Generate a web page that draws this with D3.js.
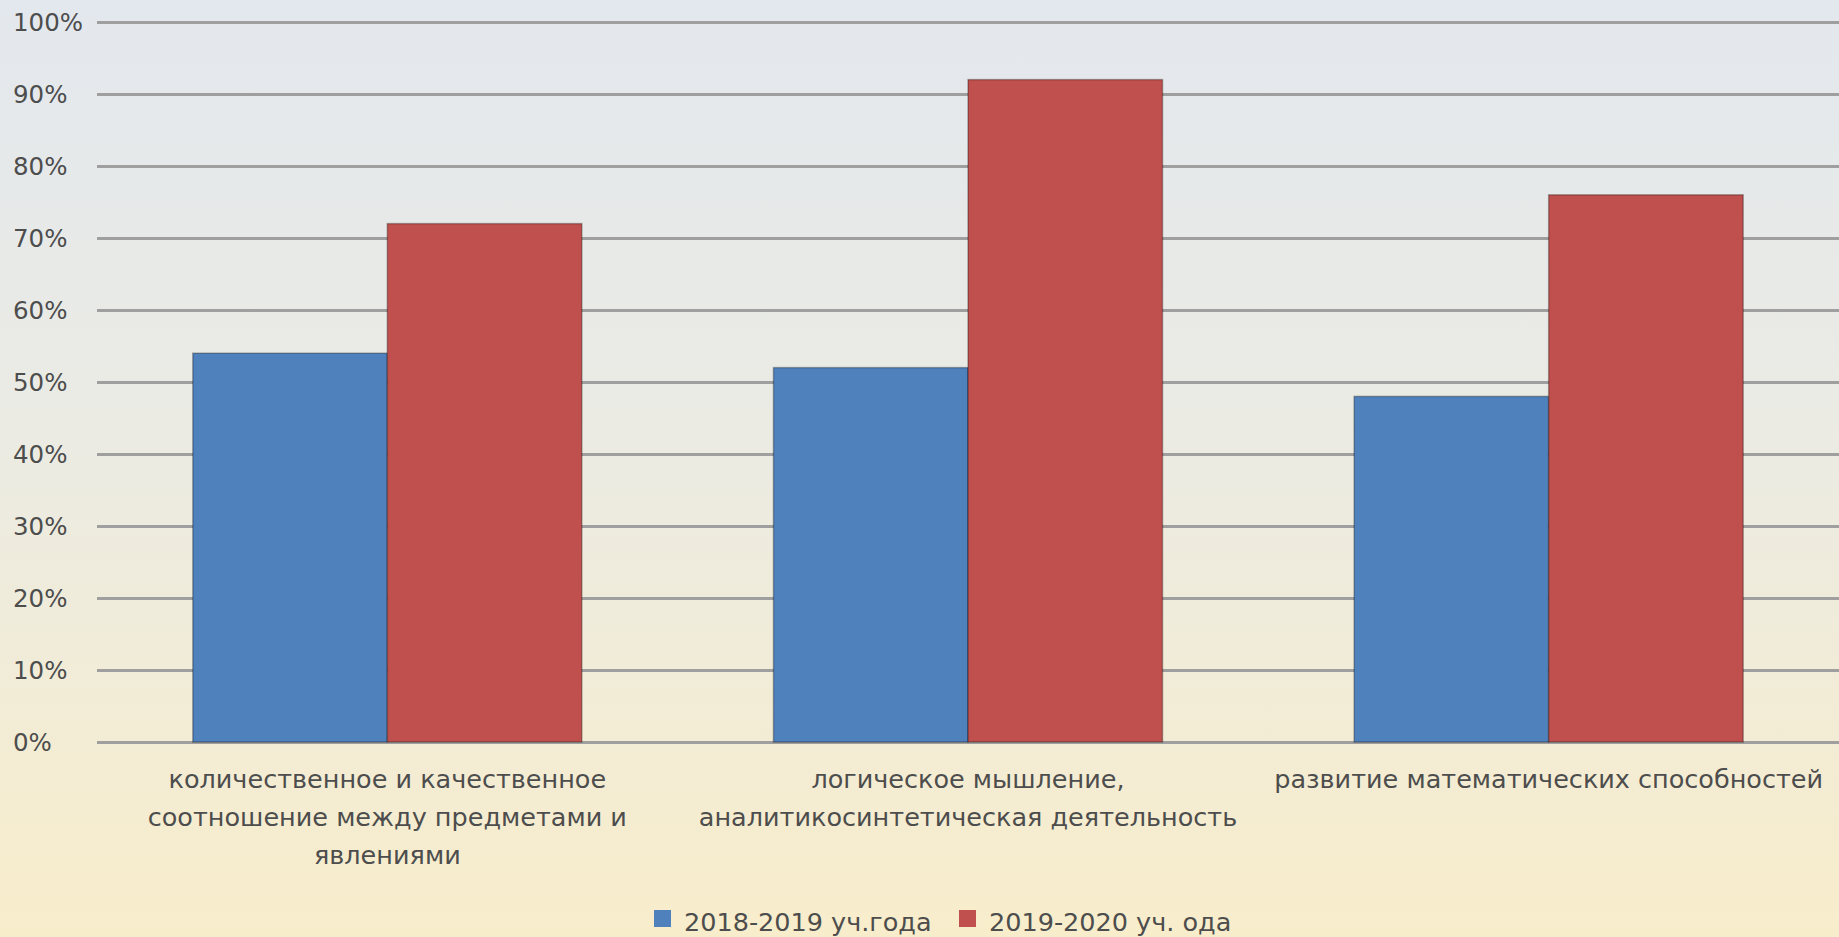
<!DOCTYPE html>
<html>
<head>
  <meta charset="utf-8">
  <script src="https://d3js.org/d3.v7.min.js"></script>
  <style>
    html, body { margin: 0; padding: 0; overflow: hidden; }
    text { font-family: "DejaVu Sans", sans-serif; fill: #4d4d4d; }
  </style>
</head>
<body>
  <div id="chart"></div>
  <script>
    // categories (each label split into lines as in the picture)
    var categories = [
      ["количественное и качественное", "соотношение между предметами и", "явлениями"],
      ["логическое мышление,", "аналитикосинтетическая деятельность"],
      ["развитие математических способностей"]
    ];
    var seriesNames = ["2018-2019 уч.года", "2019-2020 уч. ода"];
    var values2018 = [0.54, 0.52, 0.48];
    var values2019 = [0.72, 0.92, 0.76];
    var yTicks = [0, 0.1, 0.2, 0.3, 0.4, 0.5, 0.6, 0.7, 0.8, 0.9, 1.0];
    var colors = ["#4f81bd", "#c0504d"];

    var width = 1839, height = 937;
    var margin = { left: 97, right: 0, top: 22, bottom: 195 };

    var svg = d3.select("#chart").append("svg")
      .attr("width", width)
      .attr("height", height);

    // background gradient, grey-blue at top to cream at bottom
    var grad = svg.append("defs").append("linearGradient")
      .attr("id", "bg").attr("x1", 0).attr("y1", 0).attr("x2", 0).attr("y2", 1);
    grad.append("stop").attr("offset", "0%").attr("stop-color", "#e3e8ee");
    grad.append("stop").attr("offset", "45%").attr("stop-color", "#ebebe4");
    grad.append("stop").attr("offset", "100%").attr("stop-color", "#f8edcb");
    svg.append("rect").attr("width", width).attr("height", height).attr("fill", "url(#bg)");

    var x0 = d3.scaleBand()
      .domain(d3.range(categories.length))
      .range([margin.left, width - margin.right])
      .paddingInner(0.33)
      .paddingOuter(0.165);

    var x1 = d3.scaleBand()
      .domain([0, 1])
      .range([0, x0.bandwidth()]);

    var y = d3.scaleLinear()
      .domain([0, 1])
      .range([height - margin.bottom, margin.top]);

    // gridlines + tick labels
    var yAxis = svg.append("g")
      .attr("transform", "translate(" + margin.left + ",0)")
      .call(d3.axisLeft(y)
        .tickValues(yTicks)
        .tickFormat(d3.format(".0%"))
        .tickSize(-(width - margin.left - margin.right))
        .tickPadding(0));
    yAxis.select(".domain").remove();
    yAxis.selectAll(".tick line")
      .attr("stroke", "#9f9f9f")
      .attr("stroke-width", 3);
    yAxis.selectAll(".tick text")
      .attr("text-anchor", "start")
      .attr("x", 13 - margin.left)
      .attr("dy", "0.35em")
      .style("font-size", "24.5px")
      .style("fill", "#4d4d4d");

    // bars
    var rows = categories.map(function(c, i) {
      return [values2018[i], values2019[i]];
    });

    var groups = svg.append("g").selectAll("g")
      .data(rows)
      .enter().append("g")
      .attr("transform", function(d, i) { return "translate(" + x0(i) + ",0)"; });

    groups.selectAll("rect")
      .data(function(d) { return d; })
      .enter().append("rect")
      .attr("x", function(d, j) { return x1(j); })
      .attr("y", function(d) { return y(d); })
      .attr("width", x1.bandwidth())
      .attr("height", function(d) { return y(0) - y(d); })
      .attr("fill", function(d, j) { return colors[j]; })
      .attr("stroke", "rgba(0,0,0,0.3)")
      .attr("stroke-width", 1.5);

    // category labels
    var labels = svg.append("g").selectAll("text")
      .data(categories)
      .enter().append("text")
      .attr("text-anchor", "middle")
      .attr("x", function(d, i) { return x0(i) + x0.bandwidth() / 2; })
      .attr("y", y(0) + 46)
      .style("font-size", "25.5px");

    labels.selectAll("tspan")
      .data(function(d) { return d; })
      .enter().append("tspan")
      .attr("x", function() { return d3.select(this.parentNode).attr("x"); })
      .attr("dy", function(d, i) { return i == 0 ? 0 : 38; })
      .text(function(d) { return d; });

    // legend
    var legend = svg.append("g")
      .attr("transform", "translate(654," + 931 + ")");
    var legX = [0, 305];
    var item = legend.selectAll("g")
      .data(seriesNames)
      .enter().append("g")
      .attr("transform", function(d, i) { return "translate(" + legX[i] + ",0)"; });
    item.append("rect")
      .attr("x", 0).attr("y", -21)
      .attr("width", 17).attr("height", 17)
      .attr("fill", function(d, i) { return colors[i]; });
    item.append("text")
      .attr("x", 30)
      .attr("y", 0)
      .style("font-size", "25.5px")
      .text(function(d) { return d; });
  </script>
</body>
</html>
